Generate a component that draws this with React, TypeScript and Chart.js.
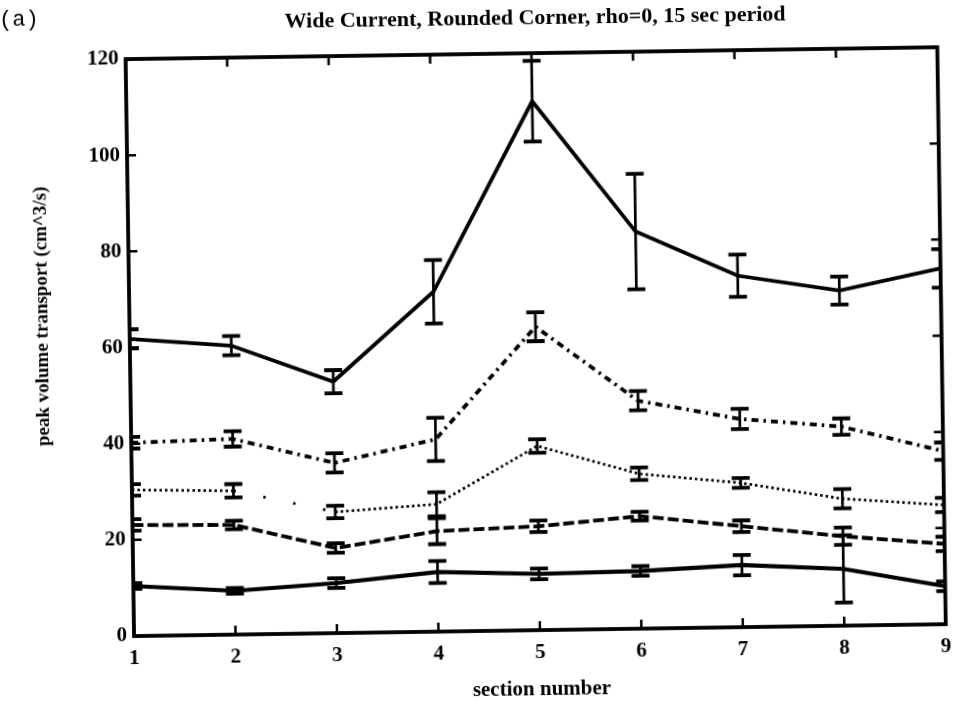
import React, { useEffect, useRef } from 'react';
import { Chart, registerables } from 'chart.js';

Chart.register(...registerables);

// ---------- data ----------
const sections = [1, 2, 3, 4, 5, 6, 7, 8, 9];
const topSolid = [61.8, 60.1, 52.3, 70.7, 110, 82.6, 73.1, 69.7, 74];
const topSolidErr = [2, 2, 2.4, 6.6, 8.4, 12, 4.4, 2.9, 4];
const dashDot = [40.2, 40.7, 35.4, 40, 63.1, 47.4, 43.3, 41.4, 36];
const dashDotErr = [1.2, 1.6, 2, 4.5, 3, 2, 2.1, 1.7, 1.8];
const dotted = [30.4, 29.9, 25.2, 26.5, 38.3, 32.2, 30, 26.4, 24.8];
const dottedErr = [1.2, 1.4, 1.3, 2.5, 1.4, 1.3, 1, 2, 1.5];
const dashed = [23.1, 22.8, 17.7, 20.9, 21.6, 23.4, 21, 18.6, 16.7];
const dashedErr = [1.2, 0.9, 1, 2.7, 1.2, 0.9, 1.2, 1.8, 1.5];
const bottomSolid = [10.4, 9.1, 10.4, 12.4, 11.7, 12, 12.9, 11.8, 7.9];
const bottomSolidErr = [0.6, 0.6, 1, 2.3, 1.1, 1, 2.1, 7, 1];
const yTickValues = [0, 20, 40, 60, 80, 100, 120];
const titleText = 'Wide Current, Rounded Corner, rho=0, 15 sec period';
const panelLabel = '(a)';
const xTitle = 'section number';
const yTitle = 'peak volume transport (cm^3/s)';

const errSets = [topSolidErr, dashDotErr, dottedErr, dashedErr, bottomSolidErr];

const toPoints = (vals: number[]) => sections.map((s, i) => ({ x: s, y: vals[i] }));

const SERIF = '"Liberation Serif", "DejaVu Serif", serif';

const errorBarPlugin = {
  id: 'errorBars',
  afterDatasetsDraw(chart: any) {
    const { ctx, chartArea, scales } = chart;
    const xs = scales.x;
    const ys = scales.y;
    ctx.save();
    ctx.beginPath();
    ctx.rect(chartArea.left, chartArea.top, chartArea.right - chartArea.left, chartArea.bottom - chartArea.top);
    ctx.clip();
    ctx.strokeStyle = '#000';
    chart.data.datasets.forEach((ds: any, di: number) => {
      const errs = errSets[di];
      ds.data.forEach((p: any, i: number) => {
        const px = xs.getPixelForValue(p.x);
        const top = ys.getPixelForValue(p.y + errs[i]);
        const bot = ys.getPixelForValue(p.y - errs[i]);
        ctx.lineWidth = 2.7;
        ctx.beginPath();
        ctx.moveTo(px, top);
        ctx.lineTo(px, bot);
        ctx.stroke();
        ctx.lineWidth = 3.8;
        ctx.beginPath();
        ctx.moveTo(px - 9, top);
        ctx.lineTo(px + 9, top);
        ctx.moveTo(px - 9, bot);
        ctx.lineTo(px + 9, bot);
        ctx.stroke();
      });
    });
    ctx.restore();
  },
};

const framePlugin = {
  id: 'frame',
  afterDraw(chart: any) {
    const { ctx, chartArea, scales } = chart;
    const { left, right, top, bottom } = chartArea;
    const xs = scales.x;
    const ys = scales.y;
    ctx.save();
    ctx.strokeStyle = '#000';
    ctx.lineWidth = 3.8;
    ctx.strokeRect(left, top, right - left, bottom - top);
    ctx.lineWidth = 2.5;
    const tl = 9;
    ctx.beginPath();
    xs.ticks.forEach((t: any) => {
      const px = xs.getPixelForValue(t.value);
      ctx.moveTo(px, bottom);
      ctx.lineTo(px, bottom - tl);
      ctx.moveTo(px, top);
      ctx.lineTo(px, top + tl);
    });
    ys.ticks.forEach((t: any) => {
      const py = ys.getPixelForValue(t.value);
      ctx.moveTo(left, py);
      ctx.lineTo(left + tl, py);
      ctx.moveTo(right, py);
      ctx.lineTo(right - tl, py);
    });
    ctx.stroke();

    ctx.fillStyle = '#000';
    ctx.textAlign = 'center';
    ctx.textBaseline = 'middle';
    ctx.font = `bold 22px ${SERIF}`;
    ctx.fillText(titleText, 540, 19);

    ctx.font = `bold 21px ${SERIF}`;
    ctx.fillText(xTitle, 537, 691);

    ctx.save();
    ctx.translate(43, 310);
    ctx.rotate(-Math.PI / 2);
    ctx.font = `bold 19px ${SERIF}`;
    ctx.fillText(yTitle, 0, 0);
    ctx.restore();

    ctx.textAlign = 'left';
    ctx.font = `22px "Liberation Mono", "DejaVu Sans Mono", monospace`;
    ctx.fillText(panelLabel, 4, 13);
    ctx.restore();
  },
};

export default function App() {
  const ref = useRef<HTMLCanvasElement>(null);

  useEffect(() => {
    if (!ref.current) return;
    const base = {
      borderColor: '#000',
      pointRadius: 0,
      fill: false,
      tension: 0,
    };
    const chart = new Chart(ref.current, {
      type: 'line',
      data: {
        datasets: [
          { ...base, label: 'top', data: toPoints(topSolid), borderWidth: 3.8 },
          { ...base, label: 'dashdot', data: toPoints(dashDot), borderWidth: 3.8, borderDash: [7, 5, 2.5, 5] },
          {
            ...base,
            label: 'dotted',
            data: toPoints(dotted),
            borderWidth: 2.7,
            borderDash: [2.5, 3],
            segment: {
              borderDash: (c: any) => (c.p0DataIndex === 1 ? [2.5, 28] : undefined),
            },
          },
          { ...base, label: 'dashed', data: toPoints(dashed), borderWidth: 3.8, borderDash: [11, 4] },
          { ...base, label: 'bottom', data: toPoints(bottomSolid), borderWidth: 4.2 },
        ],
      },
      options: {
        animation: false,
        responsive: false,
        maintainAspectRatio: false,
        layout: { padding: { top: 54, right: 11, left: 0, bottom: 0 } },
        plugins: { legend: { display: false }, tooltip: { enabled: false }, title: { display: false } },
        scales: {
          x: {
            type: 'linear',
            min: 1,
            max: 9,
            afterFit: (s: any) => {
              s.height = 80;
            },
            afterBuildTicks: (s: any) => {
              s.ticks = sections.map((v) => ({ value: v }));
            },
            grid: { display: false, drawTicks: false },
            border: { display: false },
            ticks: {
              color: '#000',
              padding: 10,
              maxRotation: 0,
              font: { family: SERIF, size: 21, weight: 'bold' },
            },
          },
          y: {
            type: 'linear',
            min: 0,
            max: 120,
            afterFit: (s: any) => {
              s.width = 130;
            },
            afterBuildTicks: (s: any) => {
              s.ticks = yTickValues.map((v) => ({ value: v }));
            },
            grid: { display: false, drawTicks: false },
            border: { display: false },
            ticks: {
              color: '#000',
              padding: 7,
              font: { family: SERIF, size: 21, weight: 'bold' },
            },
          },
        },
      },
      plugins: [errorBarPlugin, framePlugin],
    } as any);
    return () => chart.destroy();
  }, []);

  return (
    <div
      style={{
        position: 'fixed',
        left: 0,
        top: 0,
        width: 957,
        height: 711,
        background: '#fff',
        transform: 'rotate(-0.84deg)',
        transformOrigin: '478.5px 355.5px',
      }}
    >
      <canvas ref={ref} width={957} height={711} style={{ display: 'block' }} />
    </div>
  );
}
